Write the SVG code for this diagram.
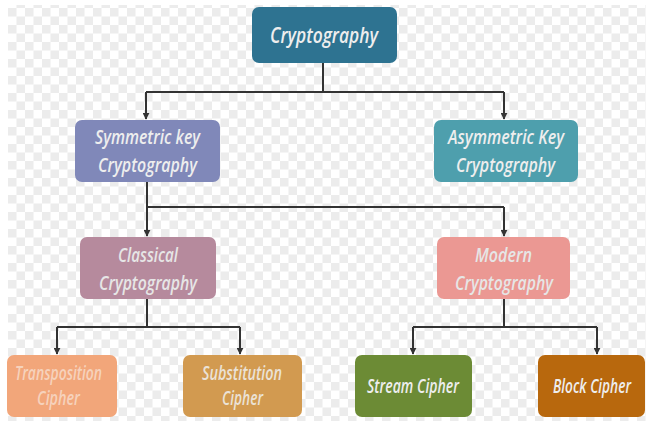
<svg xmlns="http://www.w3.org/2000/svg" width="646" height="421" viewBox="0 0 646 421">
<defs>
<pattern id="checker" x="8" y="8" width="17" height="17" patternUnits="userSpaceOnUse">
<rect width="17" height="17" fill="#ffffff"/>
<rect width="8.5" height="8.5" fill="#ececec"/>
<rect x="8.5" y="8.5" width="8.5" height="8.5" fill="#ececec"/>
</pattern>
<marker id="arr" viewBox="0 0 10 10" refX="9" refY="5" markerWidth="7" markerHeight="7" orient="auto" markerUnits="userSpaceOnUse">
<path d="M0,0 L10,5 L0,10 z" fill="#333333"/>
</marker>
</defs>
<style>
.box{stroke:none}
.t{font-family:"Open Sans","Noto Sans","DejaVu Sans",sans-serif;font-style:italic;font-weight:600;text-anchor:middle}
.lg{font-size:22px}
.md{font-size:20px}
.sm{font-size:19px}
.conn{fill:none;stroke:#333333;stroke-width:2}
</style>
<rect width="646" height="421" fill="#ffffff"/>
<rect x="8" y="5" width="638" height="416" fill="url(#checker)"/>

<g id="connectors">
<path class="conn" d="M323,63 V92 M146,92 H504"/>
<path class="conn" d="M146,92 V119" marker-end="url(#arr)"/>
<path class="conn" d="M504,92 V119" marker-end="url(#arr)"/>
<path class="conn" d="M147,182 V207 M147,207 H504"/>
<path class="conn" d="M147,207 V236" marker-end="url(#arr)"/>
<path class="conn" d="M504,207 V236" marker-end="url(#arr)"/>
<path class="conn" d="M147,299 V327 M57,327 H240"/>
<path class="conn" d="M57,327 V354" marker-end="url(#arr)"/>
<path class="conn" d="M240,327 V354" marker-end="url(#arr)"/>
<path class="conn" d="M504,299 V327 M413,327 H597"/>
<path class="conn" d="M413,327 V354" marker-end="url(#arr)"/>
<path class="conn" d="M597,327 V354" marker-end="url(#arr)"/>
</g>

<g id="cryptography">
<rect class="box" x="252" y="7" width="145" height="56" rx="7" fill="#2e7391"/>
<text class="t lg" x="324" y="43" fill="#eeeeee" textLength="108" lengthAdjust="spacingAndGlyphs">Cryptography</text>
</g>

<g id="symmetric">
<rect class="box" x="75" y="120" width="145" height="62" rx="7" fill="#8088b9"/>
<text class="t md" x="147.5" y="144" fill="#eeeeee" textLength="105" lengthAdjust="spacingAndGlyphs">Symmetric key</text>
<text class="t md" x="147.5" y="172" fill="#eeeeee" textLength="99" lengthAdjust="spacingAndGlyphs">Cryptography</text>
</g>

<g id="asymmetric">
<rect class="box" x="434" y="120" width="144" height="62" rx="7" fill="#4e9fad"/>
<text class="t md" x="506" y="144" fill="#eeeeee" textLength="116" lengthAdjust="spacingAndGlyphs">Asymmetric Key</text>
<text class="t md" x="505.5" y="172" fill="#eeeeee" textLength="99" lengthAdjust="spacingAndGlyphs">Cryptography</text>
</g>

<g id="classical">
<rect class="box" x="80" y="237" width="136" height="62" rx="7" fill="#b68a9d"/>
<text class="t md" x="148" y="262" fill="#e6e6e6" textLength="60" lengthAdjust="spacingAndGlyphs">Classical</text>
<text class="t md" x="148" y="290" fill="#e6e6e6" textLength="98" lengthAdjust="spacingAndGlyphs">Cryptography</text>
</g>

<g id="modern">
<rect class="box" x="437" y="237" width="133" height="62" rx="7" fill="#eb9893"/>
<text class="t md" x="503.5" y="262" fill="#e6e6e6" textLength="57" lengthAdjust="spacingAndGlyphs">Modern</text>
<text class="t md" x="504" y="290" fill="#e6e6e6" textLength="98" lengthAdjust="spacingAndGlyphs">Cryptography</text>
</g>

<g id="transposition">
<rect class="box" x="7" y="355" width="110" height="62" rx="7" fill="#f2a67a"/>
<text class="t sm" x="58.5" y="380" fill="#f6d2bc" textLength="87" lengthAdjust="spacingAndGlyphs">Transposition</text>
<text class="t sm" x="58.5" y="405" fill="#f6d2bc" textLength="43" lengthAdjust="spacingAndGlyphs">Cipher</text>
</g>

<g id="substitution">
<rect class="box" x="183" y="355" width="119" height="62" rx="7" fill="#d29a50"/>
<text class="t sm" x="242" y="380" fill="#ebe2d6" textLength="80" lengthAdjust="spacingAndGlyphs">Substitution</text>
<text class="t sm" x="242.5" y="405" fill="#ebe2d6" textLength="41" lengthAdjust="spacingAndGlyphs">Cipher</text>
</g>

<g id="stream">
<rect class="box" x="355" y="355" width="117" height="62" rx="7" fill="#6c8b35"/>
<text class="t sm" x="413" y="393" fill="#eeeeee" textLength="92" lengthAdjust="spacingAndGlyphs">Stream Cipher</text>
</g>

<g id="block">
<rect class="box" x="538" y="355" width="107" height="62" rx="7" fill="#b8680d"/>
<text class="t sm" x="592" y="393" fill="#eeeeee" textLength="78" lengthAdjust="spacingAndGlyphs">Block Cipher</text>
</g>
</svg>
